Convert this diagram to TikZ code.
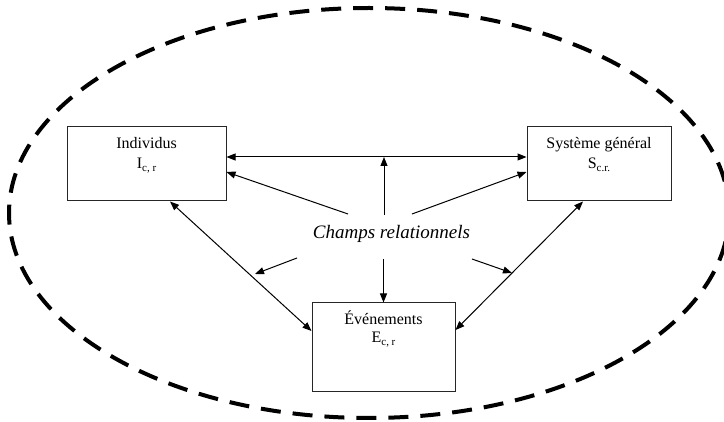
\documentclass[tikz,border=0pt]{standalone}
\usepackage{fontspec}
\setmainfont{Liberation Serif}
\usetikzlibrary{arrows.meta,calc}
\begin{document}
\begin{tikzpicture}[x=1pt,y=-1pt,
  boxnode/.style={draw=black!85,line width=1pt,inner sep=0pt,fill=white},
  titletext/.style={anchor=base,inner sep=0pt,font=\fontsize{16}{19}\selectfont},
  conn/.style={line width=1pt,-{Triangle[length=9pt,width=7pt]}},
  dconn/.style={line width=1pt,{Triangle[length=9pt,width=7pt]}-{Triangle[length=9pt,width=7pt]}},
  sub/.style={}
]
\newcommand{\subcr}[1]{\raisebox{-2.5pt}{\fontsize{11}{11}\selectfont #1}}
\useasboundingbox (0,0) rectangle (724,422);
\clip (0,0) rectangle (724,422);
\fill[white] (0,0) rectangle (724,422);
% dashed ellipse
\draw[line width=4pt,dash pattern=on 20pt off 12pt] (369,213) ellipse [x radius=360pt, y radius=205pt];
% boxes
\node[boxnode,minimum width=159pt,minimum height=74pt] (ind) at (146.5,164) {};
\node[boxnode,minimum width=144pt,minimum height=74pt] (sys) at (599,164) {};
\node[boxnode,minimum width=143pt,minimum height=89pt] (ev) at (383.5,347.5) {};
% texts
\node[titletext] (indA) at (146.5,149) {Individus};
\node[titletext] (indB) at (146.5,169) {I\subcr{c, r}};
\node[titletext] (sysA) at (599,149) {Système général};
\node[titletext] (sysB) at (599,169) {S\subcr{c.r.}};
\node[titletext] (evA) at (383.5,325) {Événements};
\node[titletext] (evB) at (383.5,343) {E\subcr{c, r}};
\node[anchor=base,inner sep=0pt,font=\fontsize{19}{22}\selectfont\itshape] (ch) at (391.5,239) {Champs relationnels};
% free ends
\coordinate (hL) at ($(ind.east)+(0,-7)$);
\coordinate (hR) at ($(sys.west)+(0,-7)$);
\coordinate (sUp) at ($(ch.base)+(-7.5,-24)$);
\coordinate (sInd) at ($(ch.base)+(-43.5,-25)$);
\coordinate (sSys) at ($(ch.base)+(20.5,-25)$);
\coordinate (sDn) at ($(ch.base)+(-8,20)$);
\coordinate (sLL) at ($(ch.base)+(-94.5,19)$);
\coordinate (eLL) at ($(ch.base)+(-136.5,35)$);
\coordinate (sLR) at ($(ch.base)+(80.5,20)$);
\coordinate (eLR) at ($(ch.base)+(120.5,34)$);
% connectors
\draw[dconn] (hL) -- (hR);
\draw[conn] (sUp) -- (sUp |- hL);
\draw[conn] (sInd) -- ($(ind.east)+(0,8)$);
\draw[conn] (sSys) -- ($(sys.west)+(0,8)$);
\draw[conn] (sDn) -- (sDn |- ev.north);
\draw[conn] (sLL) -- (eLL);
\draw[conn] (sLR) -- (eLR);
\draw[dconn] ($(ind.south)+(23.5,0)$) -- ($(ev.west)+(0,-16.5)$);
\draw[dconn] ($(sys.south)+(-16,0)$) -- ($(ev.east)+(0,-17.5)$);
\end{tikzpicture}
\end{document}
